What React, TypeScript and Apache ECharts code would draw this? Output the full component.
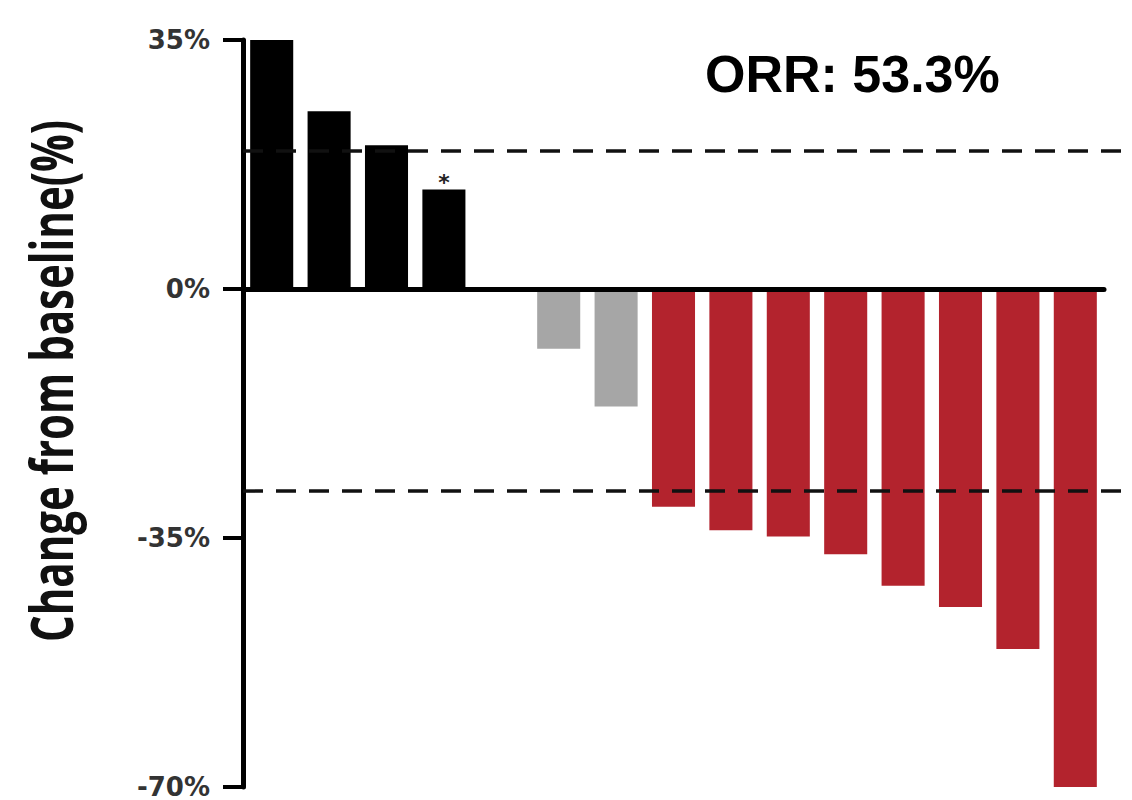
import React, { useEffect, useRef } from "react";
import * as echarts from "echarts";

// Best percentage change from baseline in target lesions, one bar per patient
const patients = ["P1", "P2", "P3", "P4", "P5", "P6", "P7", "P8", "P9", "P10", "P11", "P12", "P13", "P14", "P15"];
const changeValues = [35, 25, 20.2, 14, 0, -8.4, -16.5, -30.6, -33.9, -34.8, -37.3, -41.7, -44.7, -50.6, -70];
const responseGroups = ["PD", "PD", "PD", "PD", "SD", "SD", "SD", "PR", "PR", "PR", "PR", "PR", "PR", "PR", "PR"];
const newLesionFlags = [false, false, false, true, false, false, false, false, false, false, false, false, false, false, false];

// Dashed reference lines (progression / response thresholds)
const thresholdLines = [19.4, -28.4];

// Y axis ticks
const yTicks = [-70, -35, 0, 35];

const groupColors: Record<string, string> = {
  PD: "#000000",
  SD: "#a6a6a6",
  PR: "#b3232d",
};

const ORR_TEXT = "ORR: 53.3%";
const Y_TITLE = "Change from baseline(%)";

export default function App() {
  const ref = useRef<HTMLDivElement>(null);

  useEffect(() => {
    if (!ref.current) return;
    const chart = echarts.init(ref.current, undefined, { renderer: "svg" });

    const yMin = yTicks[0];
    const yMax = yTicks[yTicks.length - 1];
    const step = yTicks[1] - yTicks[0];

    const barData = changeValues.map((v, i) => ({
      value: v,
      itemStyle: { color: groupColors[responseGroups[i]] },
      label: newLesionFlags[i]
        ? {
            show: true,
            position: "top",
            distance: -4,
            formatter: "*",
            fontSize: 22,
            fontWeight: "bold",
            color: "#222",
            fontFamily: "DejaVu Sans",
          }
        : { show: false },
    }));

    const thresholdSeries = thresholdLines.map((t) => ({
      type: "line",
      xAxisIndex: 1,
      yAxisIndex: 1,
      data: [
        [0, t],
        [1, t],
      ],
      symbol: "none",
      silent: true,
      z: 6,
      lineStyle: { color: "#111", width: 3.5, type: [20, 13] },
    }));

    chart.setOption({
      animation: false,
      backgroundColor: "#ffffff",
      grid: [
        { left: 243, right: 28, top: 40, bottom: 13 },
        { left: 243, right: 0, top: 40, bottom: 13 },
      ],
      xAxis: [
        {
          type: "category",
          gridIndex: 0,
          data: patients,
          z: 4,
          axisLine: { show: true, onZero: true, lineStyle: { color: "#000", width: 5 } },
          axisTick: { show: false },
          axisLabel: { show: false },
          splitLine: { show: false },
        },
        { type: "value", gridIndex: 1, min: 0, max: 1, show: false },
      ],
      yAxis: [
        {
          type: "value",
          gridIndex: 0,
          min: yMin,
          max: yMax,
          interval: step,
          z: 4,
          axisLine: { show: true, lineStyle: { color: "#000", width: 5 } },
          axisTick: { show: true, inside: false, length: 20, lineStyle: { color: "#000", width: 4 } },
          axisLabel: {
            formatter: (v: number) => `${v}%`,
            margin: 33,
            fontSize: 26,
            lineHeight: 20,
            fontWeight: "bold",
            color: "#333",
            fontFamily: "DejaVu Sans",
          },
          splitLine: { show: false },
        },
        { type: "value", gridIndex: 1, min: yMin, max: yMax, show: false },
      ],
      graphic: [
        {
          type: "text",
          x: 705,
          y: 100,
          style: {
            text: ORR_TEXT,
            font: 'bold 52px "Liberation Sans", Arial, sans-serif',
            fill: "#000",
            verticalAlign: "bottom",
          },
        },
        {
          type: "text",
          x: 50,
          y: 381,
          rotation: Math.PI / 2,
          scaleX: 0.7,
          style: {
            text: Y_TITLE,
            font: 'bold 60px "Open Sans", sans-serif',
            fill: "#111",
            align: "center",
            verticalAlign: "middle",
          },
        },
      ],
      series: [
        {
          type: "bar",
          xAxisIndex: 0,
          yAxisIndex: 0,
          data: barData,
          barCategoryGap: "25%",
          z: 2,
        },
        ...thresholdSeries,
      ],
    });

    return () => chart.dispose();
  }, []);

  return (
    <div
      ref={ref}
      style={{ position: "fixed", left: 0, top: 0, width: 1132, height: 800, background: "#fff" }}
    />
  );
}
